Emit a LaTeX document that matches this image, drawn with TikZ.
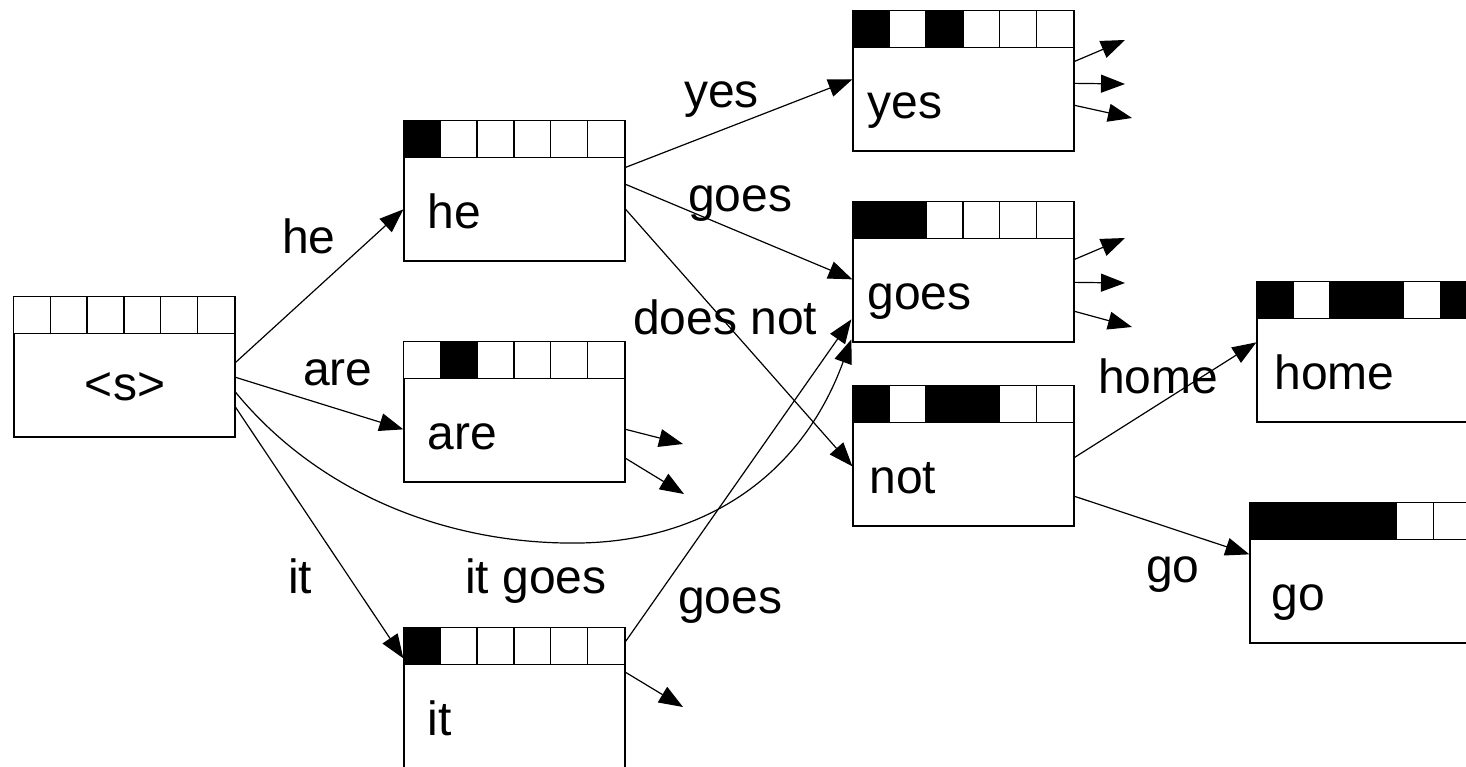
\documentclass[tikz,border=0pt]{standalone}
\usepackage{fontspec}
\setmainfont{Liberation Sans}
\usetikzlibrary{arrows.meta,calc}
\newcommand\wbox[6]{%
  \node[wordbody] (#1) at (#2+110.5,#3+70) {};
  \foreach \c [count=\i from 0] in {#4}
    \draw[cellstyle,fill=\c] ($(#1.north west)+(\i*36.833,0)$) rectangle ++(36.833,37);
  \node[lbl,anchor=base west] (#1-t) at ($(#1.north west)+(#6,108)$) {#5};
}
\tikzset{
  wordbody/.style={draw,line width=1.3pt,minimum width=221pt,minimum height=140pt,inner sep=0pt,fill=white},
  cellstyle/.style={line width=1.3pt},
  lbl/.style={font=\fontsize{48}{56}\selectfont,inner sep=0pt},
  conn/.style={line width=1.2pt,-{Triangle[length=24pt,width=18pt]}},
}
\begin{document}
\begin{tikzpicture}[x=1pt,y=-1pt]
\useasboundingbox (0,0) rectangle (1466,766);
% boxes
\node[wordbody] (s) at (14+110.5,297+70) {};
\foreach \i in {0,...,5}
  \draw[cellstyle,fill=white] ($(s.north west)+(\i*36.833,0)$) rectangle ++(36.833,37);
\node[lbl,anchor=base] (s-t) at (125,400) {<s>};
\wbox{he}{404}{121}{black,white,white,white,white,white}{he}{24}
\wbox{are}{404}{342}{white,black,white,white,white,white}{are}{24}
\wbox{it}{404}{628}{black,white,white,white,white,white}{it}{24}
\wbox{yes}{853}{11}{black,white,black,white,white,white}{yes}{15}
\wbox{goes}{853}{202}{black,black,white,white,white,white}{goes}{15}
\wbox{not}{853}{386}{black,white,black,black,white,white}{not}{17}
\wbox{home}{1257}{282}{black,white,black,black,white,black}{home}{18}
\wbox{go}{1250}{503}{black,black,black,black,white,white}{go}{22}
% free ends of stubs
\coordinate (are-o1) at (683,444);
\coordinate (are-o2) at (684,494);
\coordinate (it-o1) at (683,707);
\coordinate (yes-o1) at (1125,40);
\coordinate (yes-o2) at (1125,84);
\coordinate (yes-o3) at (1132,118);
\coordinate (goes-o1) at (1125,238);
\coordinate (goes-o2) at (1125,283);
\coordinate (goes-o3) at (1132,327);
% connectors
\draw[conn] ($(s.north east)+(0,66)$) -- ($(he.north west)+(0,89)$);
\draw[conn] ($(s.north east)+(0,81)$) -- ($(are.north west)+(0,88)$);
\draw[conn] ($(s.north east)+(0,96)$) .. controls (320,495) and (450,545) .. (580,543)
   .. controls (700,541) and (800,480) .. ($(goes.north west)+(-1,138)$);
\draw[conn] ($(s.north east)+(0,111)$) -- ($(it.north west)+(0,31)$);
\draw[conn] ($(he.north east)+(0,47)$) -- ($(yes.north west)+(0,69)$);
\draw[conn] ($(he.north east)+(0,64)$) -- ($(goes.north west)+(0,78)$);
\draw[conn] ($(he.north east)+(0,89)$) -- ($(not.north west)+(0,81)$);
\draw[conn] ($(are.north east)+(0,88)$) -- (are-o1);
\draw[conn] ($(are.north east)+(0,117)$) -- (are-o2);
\draw[conn] ($(it.north east)+(0,14)$) -- ($(goes.north west)+(-1,118)$);
\draw[conn] ($(it.north east)+(0,45)$) -- (it-o1);
\draw[conn] ($(yes.north east)+(0,51)$) -- (yes-o1);
\draw[conn] ($(yes.north east)+(0,73)$) -- (yes-o2);
\draw[conn] ($(yes.north east)+(0,95)$) -- (yes-o3);
\draw[conn] ($(goes.north east)+(0,58)$) -- (goes-o1);
\draw[conn] ($(goes.north east)+(0,81)$) -- (goes-o2);
\draw[conn] ($(goes.north east)+(0,110)$) -- (goes-o3);
\draw[conn] ($(not.north east)+(0,72)$) -- ($(home.north west)+(0,61)$);
\draw[conn] ($(not.north east)+(0,111)$) -- ($(go.north west)+(0,52)$);
% edge labels
\node[lbl,anchor=base west] (l-he) at (282,253) {he};
\node[lbl,anchor=base west] (l-are) at (303,385) {are};
\node[lbl,anchor=base west] (l-it) at (288,593) {it};
\node[lbl,anchor=base west] (l-itgoes) at (465,593) {it goes};
\node[lbl,anchor=base west] (l-goes2) at (678,613) {goes};
\node[lbl,anchor=base west] (l-yes) at (684,107) {yes};
\node[lbl,anchor=base west] (l-goes1) at (688,211) {goes};
\node[lbl,anchor=base west] (l-doesnot) at (633,334) {does not};
\node[lbl,anchor=base west] (l-home) at (1098,393) {home};
\node[lbl,anchor=base west] (l-go) at (1146,582) {go};
\end{tikzpicture}
\end{document}
